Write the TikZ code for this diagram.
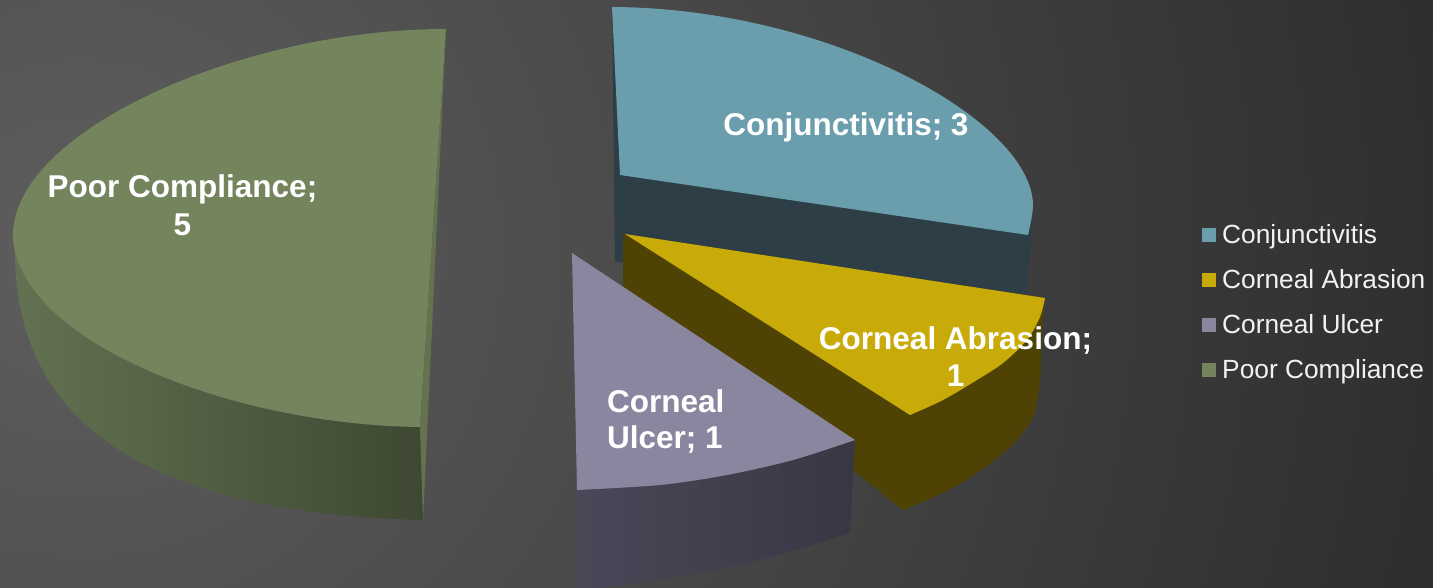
\documentclass[tikz,border=0pt]{standalone}
\usepackage{fontspec}
\setmainfont{Liberation Sans}
\definecolor{bgin}{HTML}{5E5E5E}
\definecolor{bgout}{HTML}{2A2A2A}
\definecolor{teal}{HTML}{6A9EAD}
\definecolor{tealdk}{HTML}{2D3E46}
\definecolor{yel}{HTML}{C8AB09}
\definecolor{yeldk}{HTML}{4E4304}
\definecolor{ulc}{HTML}{8A869F}
\definecolor{ulcsideL}{HTML}{4A4758}
\definecolor{ulcsideR}{HTML}{393744}
\definecolor{grn}{HTML}{74845D}
\definecolor{grnstrip}{HTML}{64724F}
\definecolor{grnsideL}{HTML}{637252}
\definecolor{grnsideR}{HTML}{3E4832}
\definecolor{legtext}{HTML}{F2F2F2}
\tikzset{
  lbl/.style={inner sep=0pt, text=white, font=\bfseries\fontsize{31.5}{38}\selectfont},
  legsq/.style={inner sep=0pt, minimum size=14pt, anchor=south west},
  legtx/.style={inner sep=0pt, anchor=base west, text=legtext, font=\fontsize{26.3}{30}\selectfont},
}
\begin{document}
\begin{tikzpicture}[x=1pt,y=-1pt]
\useasboundingbox (0,0) rectangle (1433,587);
\begin{scope}
\clip (0,0) rectangle (1433,587);
\shade[inner color=bgin, outer color=bgout] (80,250) circle (1500pt);
\end{scope}

% ---- Poor Compliance (green) ----
\shade[left color=grnsideL, right color=grnsideR]
  (13,235) .. controls (15,340) and (230,425) .. (420,427)
  -- (423,520)
  .. controls (175,514) and (18,440) .. (15,257)
  -- cycle;
\fill[grn]
  (446,29) .. controls (240,29) and (13,132) .. (13,235)
  .. controls (15,340) and (230,425) .. (420,427)
  -- cycle;
\fill[grnstrip] (446,29) -- (423,520) -- (420,427) -- cycle;

% ---- Conjunctivitis (teal) ----
\fill[tealdk] (612,7) -- (615,262) -- (1027,296) -- (1033,207) -- cycle;
\fill[teal]
  (612,7) .. controls (830,8) and (1035,122) .. (1033,207)
  .. controls (1032,218) and (1030,226) .. (1028,235)
  -- (620,175) -- cycle;

% ---- Corneal Abrasion (yellow) ----
\fill[yeldk] (623,234) -- (1045,298)
  -- plot[smooth] coordinates {(1045,298) (1042,330) (1040,380) (1033,417) (1010,447) (977,473) (943,493) (903,510)}
  -- (855,472) -- (623,288) -- cycle;
\fill[yel] (625,234) -- (1045,298)
  -- plot[smooth] coordinates {(1045,298) (1040,317) (1027,340) (1003,363) (977,380) (943,400) (910,415)}
  -- cycle;

% ---- Corneal Ulcer (lavender) ----
\shade[left color=ulcsideL, right color=ulcsideR]
  plot[smooth] coordinates {(577,490) (660,485) (727,475) (793,460) (855,440)}
  -- (850,533)
  -- plot[smooth] coordinates {(850,533) (760,560) (660,580) (577,590)}
  -- cycle;
\fill[ulc] (572,253) -- (855,440)
  -- plot[smooth] coordinates {(855,440) (793,460) (727,475) (660,485) (577,490)}
  -- cycle;

% ---- data labels ----
\node[lbl, anchor=base] (conj) at (846,135) {Conjunctivitis; 3};
\node[lbl, anchor=base] (poorA) at (182.5,197) {Poor Compliance;};
\node[lbl, anchor=base] (poorB) at (182.5,235) {5};
\node[lbl, anchor=base] (abrA) at (955.5,349) {Corneal Abrasion;};
\node[lbl, anchor=base] (abrB) at (955.5,386) {1};
\node[lbl, anchor=base west] (ulcA) at (607,412) {Corneal};
\node[lbl, anchor=base west] (ulcB) at (607,448) {Ulcer; 1};

% ---- legend ----
\node[legsq, fill=teal] (sq1) at (1202,242) {};
\node[legsq, fill=yel]  (sq2) at (1202,287) {};
\node[legsq, fill=ulc]  (sq3) at (1202,332) {};
\node[legsq, fill=grn]  (sq4) at (1202,377) {};
\node[legtx] (lg1) at (1222,243) {Conjunctivitis};
\node[legtx] (lg2) at (1222,288) {Corneal Abrasion};
\node[legtx] (lg3) at (1222,333) {Corneal Ulcer};
\node[legtx] (lg4) at (1222,378) {Poor Compliance};
\end{tikzpicture}
\end{document}
